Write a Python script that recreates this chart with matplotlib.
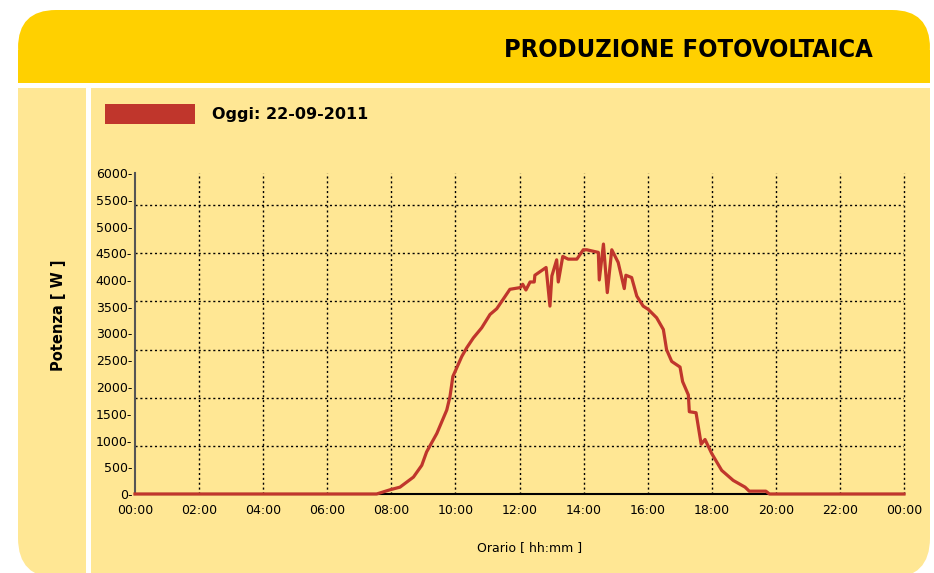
import matplotlib
matplotlib.use("Agg")
import matplotlib.pyplot as plt
from matplotlib import font_manager
from matplotlib.font_manager import FontProperties
from matplotlib.patches import FancyBboxPatch, Rectangle

# ore del giorno (decimali) e potenza in W
ore = [0, 7.54, 7.96, 8.27, 8.69, 8.95, 9.10, 9.42, 9.73, 9.83, 9.92, 9.99,
       10.20, 10.35, 10.56, 10.82, 11.08, 11.29, 11.70, 12.02, 12.10, 12.20,
       12.33, 12.46, 12.48, 12.83, 12.95, 13.01, 13.16, 13.21, 13.35, 13.52,
       13.79, 13.99, 14.10, 14.46, 14.49, 14.62, 14.74, 14.88, 15.08, 15.27,
       15.32, 15.50, 15.66, 15.86, 16.02, 16.28, 16.49, 16.59, 16.75, 17.01,
       17.09, 17.27, 17.30, 17.51, 17.67, 17.79, 18.00, 18.31, 18.67, 19.04,
       19.17, 19.69, 19.80, 24]
potenza = [0, 0, 79, 128, 316, 536, 786, 1132, 1570, 1820, 2196, 2290,
           2572, 2730, 2918, 3106, 3356, 3463, 3826, 3858, 3920, 3813,
           3963, 3963, 4089, 4234, 3512, 4076, 4377, 3963, 4440, 4390,
           4390, 4565, 4565, 4516, 4001, 4672, 3764, 4565, 4328, 3839,
           4089, 4046, 3700, 3512, 3450, 3294, 3074, 2698, 2478, 2373,
           2102, 1852, 1538, 1519, 931, 1019, 756, 442, 254, 128,
           53, 53, 0, 0]

x_ticks = list(range(0, 25, 2))
x_labels = ["00:00", "02:00", "04:00", "06:00", "08:00", "10:00", "12:00",
            "14:00", "16:00", "18:00", "20:00", "22:00", "00:00"]
y_ticks = list(range(0, 6001, 500))
y_grid = [900, 1800, 2700, 3600, 4500, 5400]

titolo = "PRODUZIONE FOTOVOLTAICA"
legenda = "Oggi: 22-09-2011"

GIALLO = "#FFD000"
CHIARO = "#FFE794"
ROSSO = "#C0362C"


def font_condensato():
    """cerca un font bold condensato tra quelli installati"""
    best = None
    for f in font_manager.fontManager.ttflist:
        n = f.name.lower()
        st = str(f.stretch).lower()
        cond = "condensed" in n or "narrow" in n or "condensed" in st
        if not cond or "extra" in st or "ultra" in st:
            continue
        w = f.weight if isinstance(f.weight, int) else (700 if "bold" in str(f.weight) else 400)
        score = abs(w - 700)
        if best is None or score < best[0]:
            best = (score, f.fname)
    return best[1] if best else None


fname = font_condensato()
if fname:
    fp_titolo = FontProperties(fname=fname, weight="bold")
else:
    fp_titolo = FontProperties(family="DejaVu Sans", weight="bold")

W, H = 934, 573
fig = plt.figure(figsize=(W / 100, H / 100), dpi=100)
fig.patch.set_facecolor("white")

# sfondo disegnato in coordinate pixel
bg = fig.add_axes([0, 0, 1, 1])
bg.set_xlim(0, W)
bg.set_ylim(H, 0)
bg.axis("off")

bg.add_patch(FancyBboxPatch((18, 10), 912, 73, boxstyle="round,pad=0,rounding_size=38",
                            fc=GIALLO, ec="none"))
bg.add_patch(Rectangle((18, 50), 912, 33, fc=GIALLO, ec="none"))
bg.add_patch(FancyBboxPatch((18, 88), 912, 490, boxstyle="round,pad=0,rounding_size=40",
                            fc=CHIARO, ec="none"))
bg.add_patch(Rectangle((18, 88), 912, 100, fc=CHIARO, ec="none"))
bg.add_patch(Rectangle((86, 88), 5, H, fc="white", ec="none"))

# titolo: dimensione adattata alla larghezza del riferimento (~370 px)
t = bg.text(873, 50, titolo, ha="right", va="center", fontproperties=fp_titolo,
            color="black")
t.set_fontsize(23)
renderer = fig.canvas.get_renderer()
wpx = t.get_window_extent(renderer).width
if wpx > 380:
    t.set_fontsize(23 * 370 / wpx)

bg.add_patch(Rectangle((105, 104), 90, 20, fc=ROSSO, ec="none"))
bg.text(212, 114, legenda, ha="left", va="center", fontsize=11.5, fontweight="bold",
        color="black")
bg.text(58, 315, "Potenza [ W ]", ha="center", va="center", rotation=90,
        fontsize=10.5, fontweight="bold", color="black")
bg.text(530, 548, "Orario [ hh:mm ]", ha="center", va="center", fontsize=9,
        color="black")

# area del grafico
left, right, top, bottom = 135, 904, 173, 494
ax = fig.add_axes([left / W, 1 - bottom / H, (right - left) / W, (bottom - top) / H])
ax.set_facecolor("none")
ax.set_xlim(0, 24)
ax.set_ylim(0, 6000)

for x in x_ticks[1:]:
    ax.axvline(x, color="black", linestyle=(0, (1.5, 2)), linewidth=1, zorder=1,
               clip_on=False)
for y in y_grid:
    ax.axhline(y, color="black", linestyle=(0, (1.5, 2)), linewidth=1, zorder=1)

ax.plot(ore, potenza, color=ROSSO, linewidth=2.3, zorder=3, clip_on=False)

ax.set_xticks(x_ticks)
ax.set_xticklabels(x_labels, fontsize=9)
ax.set_yticks(y_ticks)
ax.set_yticklabels([f"{v}-" for v in y_ticks], fontsize=9)
ax.tick_params(axis="x", length=0, pad=7)
ax.tick_params(axis="y", length=0, pad=2)

for s in ["top", "right"]:
    ax.spines[s].set_visible(False)
ax.spines["left"].set_color("#555555")
ax.spines["left"].set_linewidth(1.5)
ax.spines["bottom"].set_color("black")
ax.spines["bottom"].set_linewidth(1.5)

fig.savefig("out.png", dpi=100)
